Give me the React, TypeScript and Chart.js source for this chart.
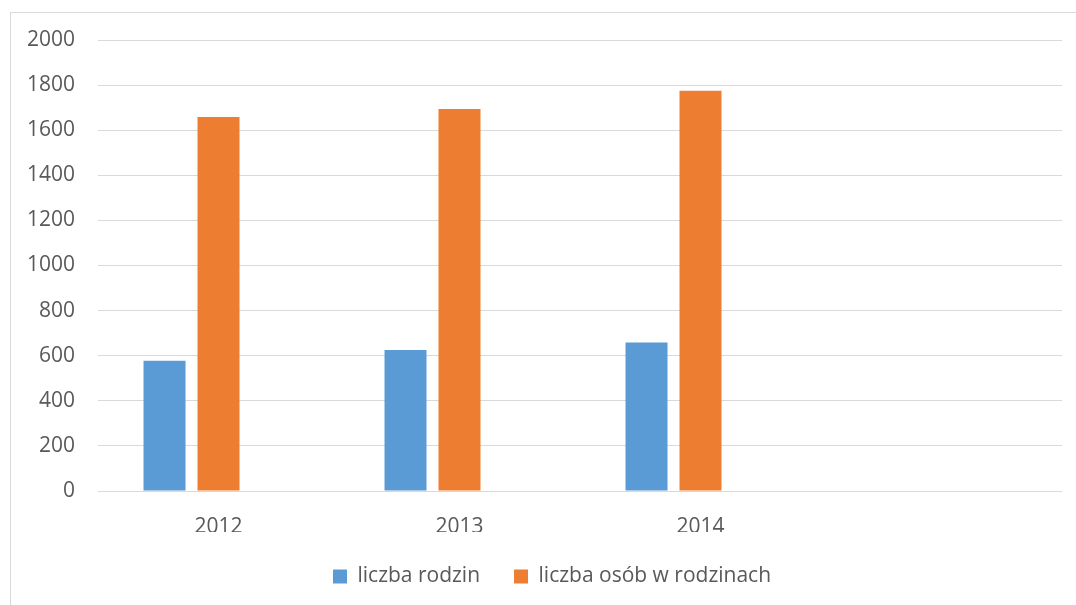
import React, { useEffect, useRef } from "react";
import { Chart, registerables } from "chart.js";

Chart.register(...registerables);

const categories = ["2012", "2013", "2014", ""];
const liczbaRodzin = [578, 625, 658, null];
const liczbaOsob = [1659, 1694, 1775, null];
const emptySeries = [null, null, null, null];
const seriesNames = ["liczba rodzin", "liczba osób w rodzinach", ""];

const legendShift = {
  id: "legendShift",
  afterLayout(chart: any) {
    if (chart.legend) {
      chart.legend.left += 21;
      chart.legend.right += 21;
    }
  },
};

export default function App() {
  const ref = useRef<HTMLCanvasElement | null>(null);

  useEffect(() => {
    if (!ref.current) return;
    const font = { family: "'Open Sans', sans-serif", size: 21 };
    const chart = new Chart(ref.current, {
      type: "bar",
      data: {
        labels: categories,
        datasets: [
          { label: seriesNames[0], data: liczbaRodzin, backgroundColor: "#5B9BD5", borderWidth: 0 },
          { label: seriesNames[1], data: liczbaOsob, backgroundColor: "#ED7D31", borderWidth: 0 },
          { label: seriesNames[2], data: emptySeries, backgroundColor: "rgba(0,0,0,0)", borderWidth: 0 },
        ],
      },
      plugins: [legendShift],
      options: {
        responsive: false,
        animation: false,
        layout: { padding: { left: 0, right: 14, top: 40, bottom: 8 } },
        datasets: { bar: { categoryPercentage: 0.672, barPercentage: 0.778 } },
        plugins: {
          tooltip: { enabled: false },
          legend: {
            position: "bottom",
            labels: {
              font,
              color: "#595959",
              boxWidth: 14,
              boxHeight: 14,
              padding: 34,
              filter: (item: any) => item.text !== "",
            },
          },
        },
        scales: {
          x: {
            grid: { display: false },
            border: { display: false },
            ticks: { font, color: "#595959", padding: 15, maxRotation: 0 },
            afterFit: (s: any) => {
              s.height = 41;
            },
          },
          y: {
            min: 0,
            max: 2000,
            ticks: {
              stepSize: 200,
              font,
              color: "#595959",
              padding: 23,
              callback: (v: any) => String(v),
            },
            grid: { color: "#d9d9d9", lineWidth: 1, drawTicks: false },
            border: { display: false },
            afterFit: (s: any) => {
              s.width = 98;
            },
          },
        },
      },
    });
    return () => chart.destroy();
  }, []);

  return (
    <div style={{ position: "fixed", left: 0, top: 0, width: 1076, height: 605, overflow: "hidden", background: "#fff" }}>
      <div style={{ position: "absolute", left: 10, top: 12, width: 1200, height: 800, border: "1px solid #d9d9d9" }} />
      <canvas ref={ref} width={1076} height={605} style={{ position: "absolute", left: 0, top: 0 }} />
    </div>
  );
}
